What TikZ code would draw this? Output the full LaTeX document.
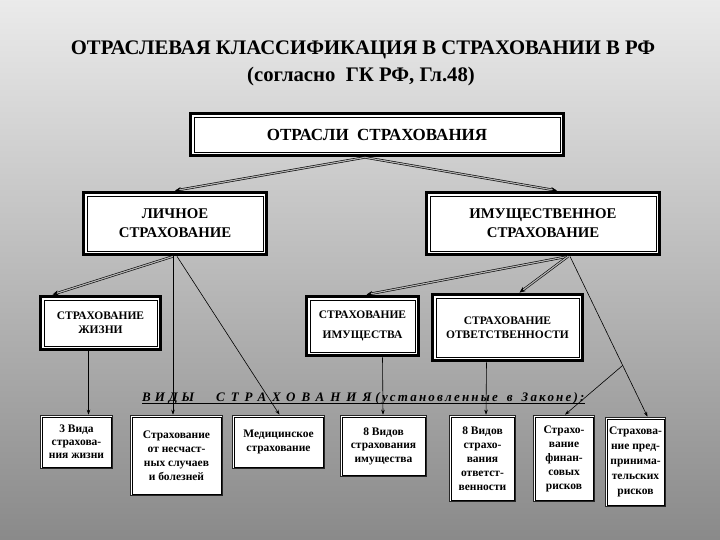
\documentclass[tikz,border=0pt]{standalone}
\usepackage{fontspec}
\setmainfont{Liberation Serif}
\usetikzlibrary{arrows.meta,calc}
\pgfdeclarelayer{bg}
\pgfsetlayers{bg,main}
\begin{document}
\begin{tikzpicture}[x=1pt,y=-1pt,
  bigbox/.style={draw=black, line width=0.8pt, fill=white, inner sep=0pt, align=center,
    font=\bfseries\fontsize{11.5}{14}\selectfont,
    preaction={draw=black, line width=9.8pt},
    preaction={draw=white, line width=4.8pt}},
  smallbox/.style={draw=black, line width=0.6pt, fill=white, inner sep=0pt, align=center,
    font=\bfseries\fontsize{11.5}{14}\selectfont,
    preaction={draw=black!85, line width=4pt},
    preaction={draw=white, line width=2pt}},
  dblarrow/.style={draw=black, double=black!30, line width=0.6pt, double distance=1.2pt,
    -{Stealth[length=6pt,width=5pt]}},
  thinarrow/.style={draw=black, line width=0.6pt, -{Stealth[length=5pt,width=3.5pt]}},
  titlefont/.style={font=\bfseries\fontsize{20.7}{24}\selectfont}
]
\useasboundingbox (0,0) rectangle (720,540);
\begin{pgfonlayer}{bg}
  \shade[top color=black!8, middle color=black!22, bottom color=black!46] (0,0) rectangle (720,540);
\end{pgfonlayer}

% title
\node[titlefont] (t1) at (363,50) {ОТРАСЛЕВАЯ КЛАССИФИКАЦИЯ В СТРАХОВАНИИ В РФ};
\node[titlefont] (t2) at (361,77) {(согласно\ \ ГК РФ, Гл.48)};

% top
\node[bigbox, minimum width=366pt, minimum height=35pt, font=\bfseries\fontsize{17}{20}\selectfont] (otr) at (377,134.5) {ОТРАСЛИ\ \ СТРАХОВАНИЯ};

% second row
\node[bigbox, minimum width=176pt, minimum height=55pt, font=\bfseries\fontsize{14.8}{19}\selectfont] (lich) at (175,223.5) {ЛИЧНОЕ\\СТРАХОВАНИЕ};
\node[bigbox, minimum width=226pt, minimum height=55pt, font=\bfseries\fontsize{14.8}{19}\selectfont] (imu) at (543,223.5) {ИМУЩЕСТВЕННОЕ\\СТРАХОВАНИЕ};

% third row
\node[bigbox, minimum width=113pt, minimum height=46pt] (zh) at (100.5,323) {СТРАХОВАНИЕ\\ЖИЗНИ};
\node[bigbox, minimum width=105pt, minimum height=52pt, font=\bfseries\fontsize{11.5}{20}\selectfont] (im) at (362.5,326) {СТРАХОВАНИЕ\\ИМУЩЕСТВА};
\node[bigbox, minimum width=143pt, minimum height=59pt] (otv) at (507.5,327.5) {СТРАХОВАНИЕ\\ОТВЕТСТВЕННОСТИ};

% label
\node[anchor=base west, inner sep=0pt, font=\bfseries\itshape\fontsize{13}{15}\selectfont] (vid) at (142,401)
  {{\addfontfeature{LetterSpace=30}ВИДЫ}\hspace{22pt}{\addfontfeature{LetterSpace=46}СТРАХОВАНИЯ}\hspace{4pt}{\addfontfeature{LetterSpace=17}(установленные}\hspace{9pt}{\addfontfeature{LetterSpace=17}в}\hspace{9pt}{\addfontfeature{LetterSpace=17}Законе):}};
\draw[line width=0.8pt] ([yshift=-2.5pt]vid.base west) -- ([yshift=-2.5pt]vid.base east);

% bottom row
\node[smallbox, minimum width=69pt, minimum height=50pt, font=\bfseries\fontsize{11.5}{13}\selectfont] (b1) at (76.5,442) {3 Вида\\страхова-\\ния жизни};
\node[smallbox, minimum width=89pt, minimum height=77pt] (b2) at (176.5,455.5) {Страхование\\от несчаст-\\ных случаев\\и болезней};
\node[smallbox, minimum width=89pt, minimum height=50pt] (b3) at (278.5,442) {Медицинское\\страхование};
\node[smallbox, minimum width=83pt, minimum height=58pt, font=\bfseries\fontsize{11.5}{13.5}\selectfont] (b4) at (383.5,446) {8 Видов\\страхования\\имущества};
\node[smallbox, minimum width=63pt, minimum height=83pt] (b5) at (482.5,458.5) {8 Видов\\страхо-\\вания\\ответст-\\венности};
\node[smallbox, minimum width=58pt, minimum height=83pt] (b6) at (564,458.5) {Страхо-\\вание\\финан-\\совых\\рисков};
\node[smallbox, minimum width=57pt, minimum height=86pt, font=\bfseries\fontsize{11.5}{15}\selectfont] (b7) at (635.5,462) {Страхова-\\ние пред-\\принима-\\тельских\\рисков};

% connection points
\coordinate (otrS) at ([xshift=-12pt,yshift=-5pt]otr.south);
\coordinate (lichS) at ([xshift=-2pt,yshift=-5pt]lich.south);
\coordinate (lichS2) at ([xshift=2pt,yshift=-5pt]lich.south);
\coordinate (imuS) at ([xshift=25pt,yshift=-5pt]imu.south);
\coordinate (imuS2) at ([xshift=27pt,yshift=-5pt]imu.south);
\coordinate (b7T) at ([xshift=12pt,yshift=2pt]b7.north);
\coordinate (br) at ($(imuS2)!0.68!(b7T)$);

% connectors
\draw[dblarrow] (otrS) -- ([yshift=5pt]lich.north);
\draw[dblarrow] (otrS) -- ([xshift=14pt,yshift=5pt]imu.north);
\draw[dblarrow] (lichS) -- ([xshift=-48pt,yshift=5pt]zh.north);
\draw[thinarrow] (lichS) -- ([yshift=2pt]b2.north -| lichS);
\draw[thinarrow] (lichS2) -- ([xshift=1pt,yshift=2pt]b3.north);
\draw[dblarrow] (imuS) -- ([xshift=4pt,yshift=5pt]im.north);
\draw[dblarrow] (imuS) -- ([xshift=12pt,yshift=5pt]otv.north);
\draw[thinarrow] (imuS2) -- (b7T);
\draw[thinarrow] (br) -- ([xshift=1pt,yshift=2pt]b6.north);
\draw[thinarrow] ([xshift=-12pt,yshift=-2pt]zh.south) -- ([xshift=12pt,yshift=2pt]b1.north);
\draw[thinarrow] ([xshift=20pt,yshift=-5pt]im.south) -- ([xshift=-0.5pt,yshift=2pt]b4.north);
\draw[thinarrow] ([xshift=-21pt,yshift=-5pt]otv.south) -- ([xshift=3.5pt,yshift=2pt]b5.north);
\end{tikzpicture}
\end{document}
